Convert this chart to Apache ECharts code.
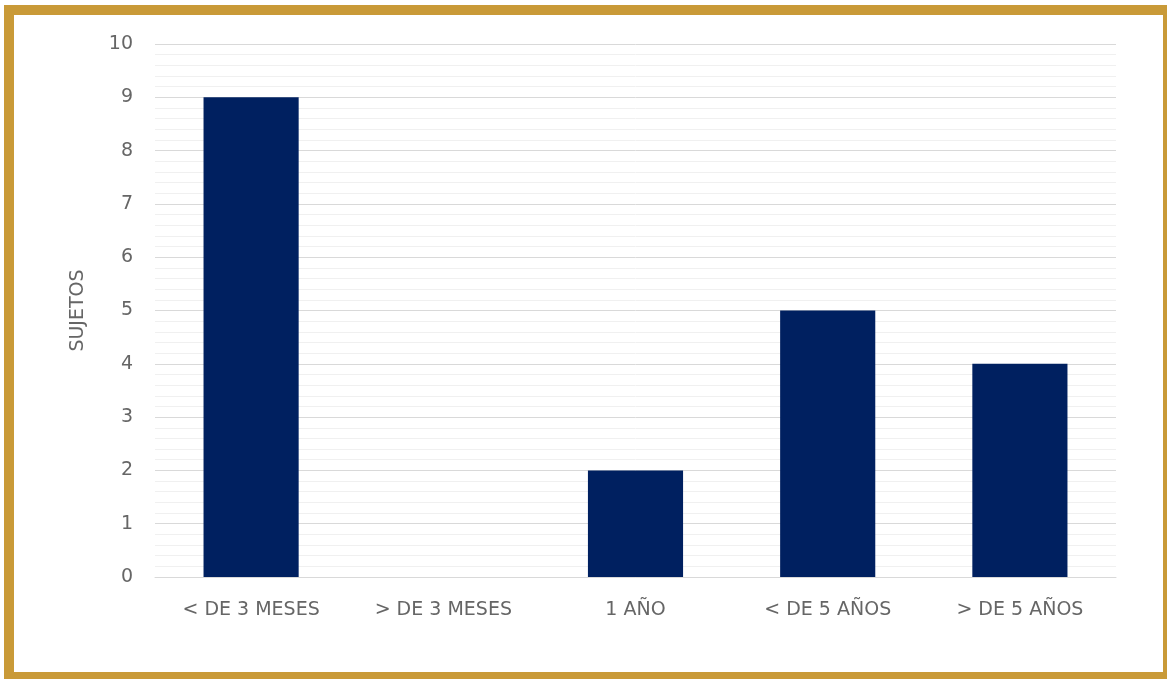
<!DOCTYPE html>
<html><head><meta charset="utf-8">
<script src="https://cdn.jsdelivr.net/npm/echarts@6/dist/echarts.min.js"></script>
<style>
html,body{margin:0;padding:0;background:#fff;width:1167px;height:679px;overflow:hidden;}
#frame{position:absolute;left:4px;top:5px;width:1300px;height:700px;box-sizing:border-box;border:10px solid #c99a38;}
#frame2{position:absolute;left:1163px;top:5px;width:4px;height:674px;background:#c99a38;}
#frame3{position:absolute;left:4px;top:672px;width:1163px;height:7px;background:#c99a38;}
#chart{position:absolute;left:0;top:0;width:1167px;height:679px;}
</style></head>
<body>
<div id="frame"></div><div id="frame2"></div><div id="frame3"></div>
<div id="chart"></div>
<script>
const categories = ['< DE 3 MESES', '> DE 3 MESES', '1 AÑO', '< DE 5 AÑOS', '> DE 5 AÑOS'];
const values = [9, 0, 2, 5, 4];
const yAxisName = 'SUJETOS';

const FONT = 'DejaVu Sans';
const chart = echarts.init(document.getElementById('chart'), null, {renderer: 'canvas'});
chart.setOption({
  backgroundColor: 'transparent',
  animation: false,
  grid: {left: 155, right: 51, top: 44, bottom: 102, containLabel: false},
  xAxis: {
    type: 'category', data: categories,
    axisLine: {show: true, lineStyle: {color: '#d9d9d9', width: 1}},
    axisTick: {show: false},
    axisLabel: {color: '#666666', fontFamily: FONT, fontSize: 19, margin: 24}
  },
  yAxis: {
    type: 'value', min: 0, max: 10, interval: 1,
    name: yAxisName, nameLocation: 'middle', nameRotate: 90, nameGap: 67,
    nameTextStyle: {color: '#666666', fontFamily: FONT, fontSize: 19},
    axisLine: {show: false}, axisTick: {show: false},
    axisLabel: {color: '#666666', fontFamily: FONT, fontSize: 19, margin: 22},
    splitLine: {show: true, lineStyle: {color: '#d9d9d9', width: 1}},
    minorTick: {show: false, splitNumber: 5},
    minorSplitLine: {show: true, lineStyle: {color: '#f0f0f0', width: 1}}
  },
  series: [{
    type: 'bar', data: values, barWidth: '49.5%',
    itemStyle: {color: '#002060'}
  }]
});
</script>
</body></html>
